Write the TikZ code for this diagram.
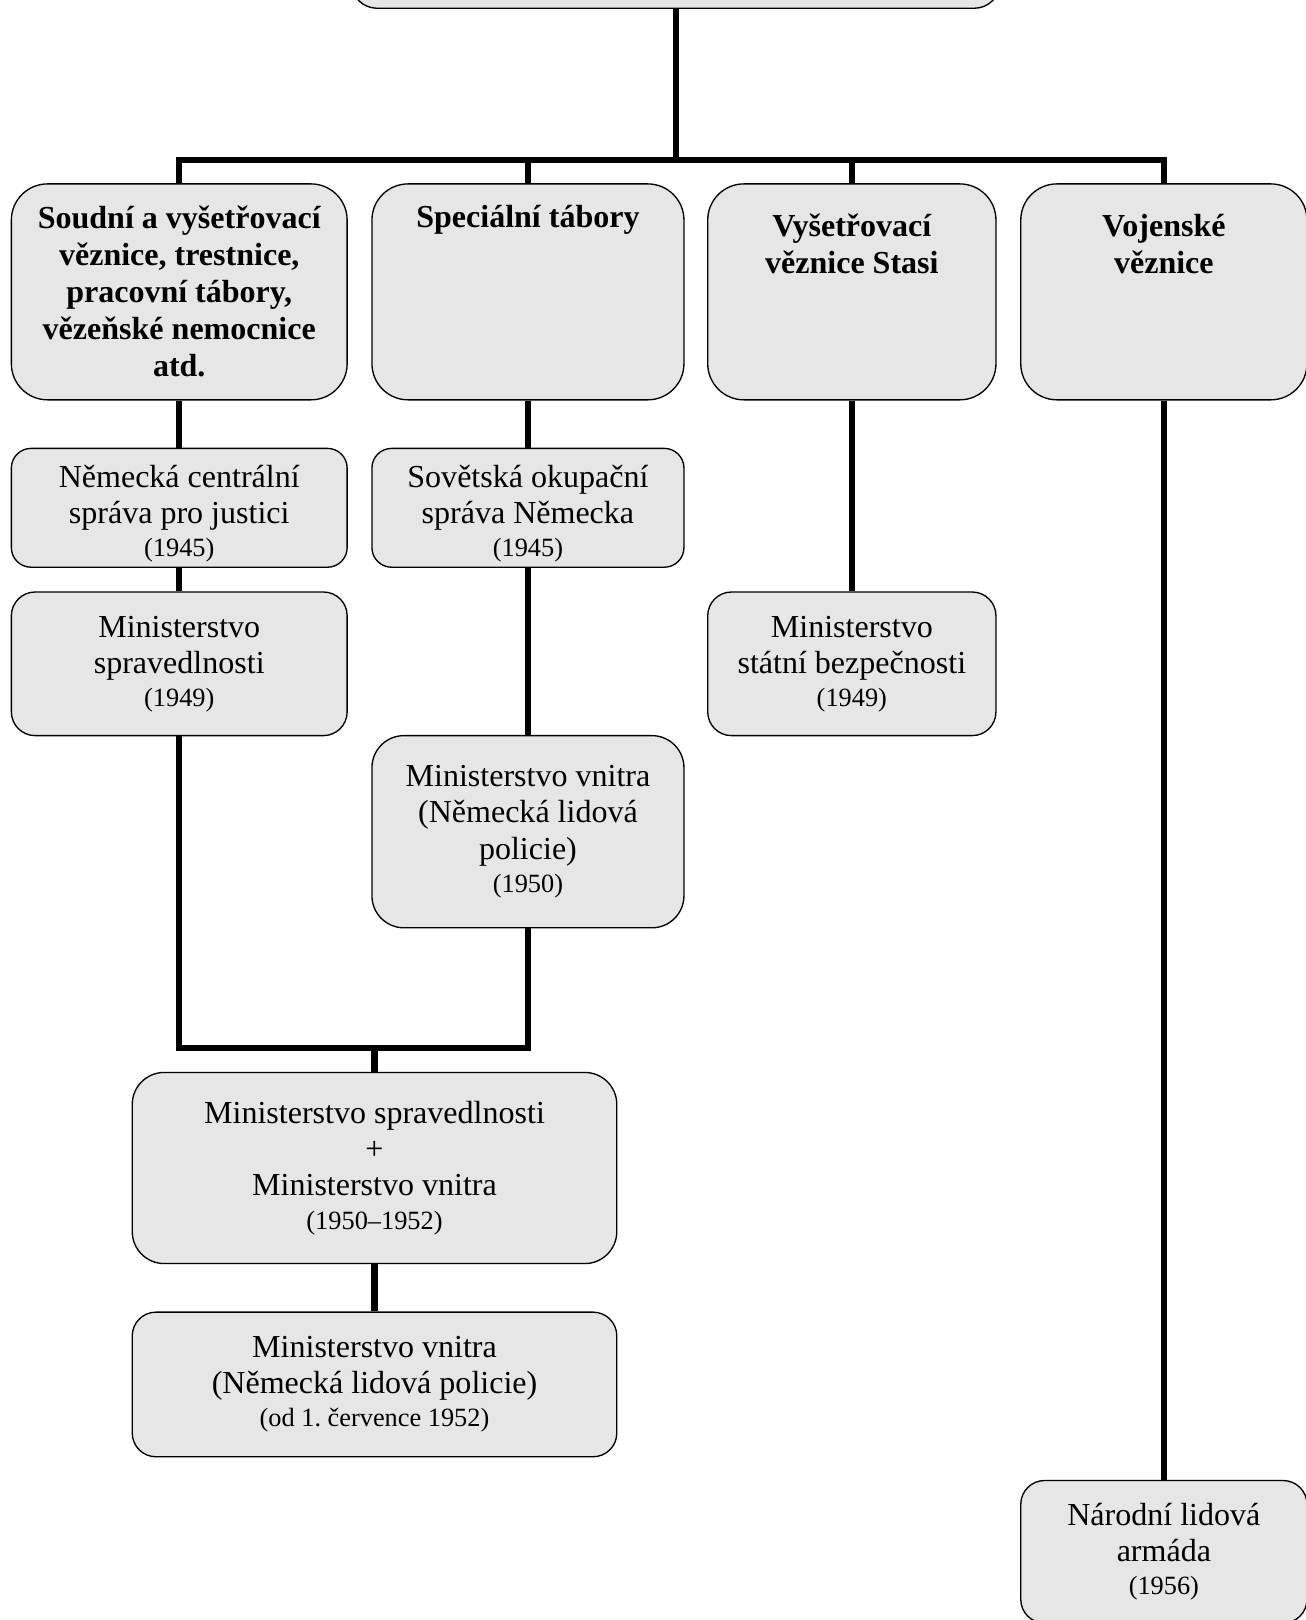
\documentclass[tikz,border=0pt]{standalone}
\usepackage{fontspec}
\setmainfont{Liberation Serif}
\definecolor{boxfill}{RGB}{230,230,230}
\newcommand\yearline[1]{{\fontsize{25.5}{35}\selectfont #1}}
\frenchspacing
\begin{document}
\begin{tikzpicture}[x=1pt,y=-1pt,
  box/.style={draw=black, line width=1.3pt, fill=boxfill, inner sep=0pt, align=center, font=\fontsize{31}{35}\selectfont\frenchspacing},
  hd/.style={align=center, inner sep=0pt, font=\fontsize{31}{36}\selectfont\bfseries},
  conn/.style={line width=6pt}]
\useasboundingbox[fill=white] (0,0) rectangle (1264,1568);

% top (cut off) box
\node[box, rounded corners=25pt, minimum width=628pt, minimum height=80pt] (top) at (654,-32) {};

% row 1
\node[box, rounded corners=35pt, minimum width=325pt, minimum height=209pt] (a1) at (173.5,282.5) {};
\node[box, rounded corners=35pt, minimum width=302pt, minimum height=209pt] (b1) at (511,282.5) {};
\node[box, rounded corners=35pt, minimum width=279pt, minimum height=209pt] (c1) at (824.5,282.5) {};
\node[box, rounded corners=35pt, minimum width=277pt, minimum height=209pt] (d1) at (1126.5,282.5) {};
\node[hd] (a1t) at (173.5,282) {Soudní a vyšetřovací\\věznice, trestnice,\\pracovní tábory,\\vězeňské nemocnice\\atd.};
\node[hd] (b1t) at (511,213) {Speciální tábory};
\node[hd] (c1t) at (824.5,236) {Vyšetřovací\\věznice Stasi};
\node[hd] (d1t) at (1126.5,236) {Vojenské\\věznice};

% row 2
\node[box, rounded corners=19pt, minimum width=325pt, minimum height=115pt] (a2) at (173.5,491.5) {\rule{0pt}{33pt}Německá centrální\\správa pro justici\\[-3pt]\yearline{(1945)}};
\node[box, rounded corners=19pt, minimum width=302pt, minimum height=115pt] (b2) at (511,491.5) {\rule{0pt}{33pt}Sovětská okupační\\správa Německa\\[-3pt]\yearline{(1945)}};

% row 3
\node[box, rounded corners=23pt, minimum width=325pt, minimum height=139pt] (a3) at (173.5,642.5) {Ministerstvo\\spravedlnosti\\[-3pt]\yearline{(1949)}};
\node[box, rounded corners=23pt, minimum width=279pt, minimum height=139pt] (c2) at (824.5,642.5) {Ministerstvo\\státní bezpečnosti\\[-3pt]\yearline{(1949)}};
\node[box, rounded corners=31pt, minimum width=302pt, minimum height=186pt] (b3) at (511,805) {Ministerstvo vnitra\\(Německá lidová\\policie)\\[-3pt]\yearline{(1950)}};

% lower boxes
\node[box, rounded corners=31pt, minimum width=469pt, minimum height=185pt] (e) at (362.5,1130.5) {Ministerstvo spravedlnosti\\+\\Ministerstvo vnitra\\[-3pt]\yearline{(1950–1952)}};
\node[box, rounded corners=23pt, minimum width=469pt, minimum height=140pt] (f) at (362.5,1340) {Ministerstvo vnitra\\(Německá lidová policie)\\[-3pt]\yearline{(od 1. července 1952)}};
\node[box, rounded corners=23pt, minimum width=277pt, minimum height=138pt] (d2) at (1126.5,1502) {Národní lidová\\armáda\\[-3pt]\yearline{(1956)}};

% connectors
\coordinate (bar) at (654,155);
\draw[conn] (top.south) -- (bar);
\draw[conn] (a1.north) |- (d1.north |- bar) -- (d1.north);
\draw[conn] (bar -| b1.north) -- (b1.north);
\draw[conn] (bar -| c1.north) -- (c1.north);
\draw[conn] (a1) -- (a2);
\draw[conn] (a2) -- (a3);
\draw[conn] (b1) -- (b2);
\draw[conn] (b2) -- (b3);
\draw[conn] (c1) -- (c2);
\draw[conn] (d1) -- (d2);
\coordinate (merge) at (362.5,1014);
\draw[conn] (a3.south) |- (b3.south |- merge) -- (b3.south);
\draw[conn] (merge) -- (e.north);
\draw[conn] (e) -- (f);
\end{tikzpicture}
\end{document}
